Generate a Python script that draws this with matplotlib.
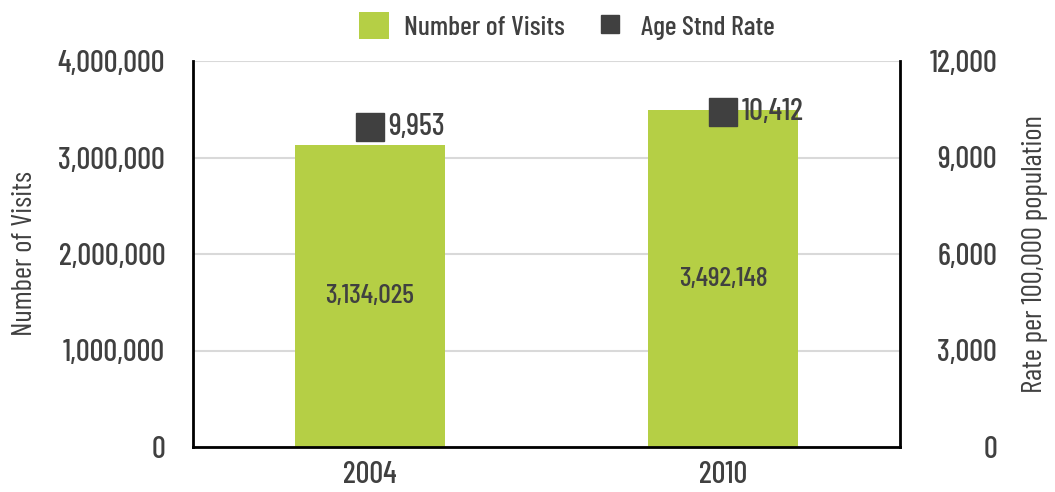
import matplotlib
matplotlib.use("Agg")
import matplotlib.pyplot as plt
from matplotlib import font_manager

years = ["2004", "2010"]
visits = [3134025, 3492148]
rates = [9953, 10412]

names = {f.name for f in font_manager.fontManager.ttflist}
fam = "DejaVu Sans"
for cand in ["Barlow Condensed", "Roboto Condensed", "Fira Sans Condensed", "Oswald",
             "Liberation Sans Narrow"]:
    if cand in names:
        fam = cand
        break
plt.rcParams["font.family"] = fam
plt.rcParams["font.weight"] = 500

dark = "#404040"
green = "#b5cf45"

fig = plt.figure(figsize=(10.55, 4.92), dpi=100)
ax = fig.add_axes([193 / 1055, 1 - 447 / 492, 707 / 1055, 386 / 492])
x = list(range(len(years)))

ax.bar(x, visits, width=0.425, color=green, zorder=2, label="Number of Visits")
ax.set_xlim(-0.5, 1.5)
ax.set_ylim(0, 4000000)
ax.set_yticks([0, 1000000, 2000000, 3000000, 4000000])
ax.set_yticklabels([f"{v:,}" for v in ax.get_yticks().astype(int)])
ax.set_xticks(x)
ax.set_xticklabels(years)
ax.grid(axis="y", color="#d9d9d9", linewidth=1.5, zorder=0)
for s in ["top", "right"]:
    ax.spines[s].set_visible(False)
ax.spines["left"].set_linewidth(2)
ax.spines["bottom"].set_linewidth(2)
ax.tick_params(length=0, labelsize=22, colors=dark)
ax.tick_params(axis="y", pad=20)
ax.tick_params(axis="x", pad=10)
ax.set_ylabel("Number of Visits", fontsize=21, color=dark)
ax.yaxis.set_label_coords((38 - 193) / 707, 0.5)

for xi, v in zip(x, visits):
    ax.text(xi, v / 2, f"{v:,}", ha="center", va="center", fontsize=20, color=dark)

ax2 = ax.twinx()
ax2.plot(x, rates, linestyle="none", marker="s", markersize=20, color=dark,
         label="Age Stnd Rate", zorder=3)
ax2.set_ylim(0, 12000)
ax2.set_yticks([0, 3000, 6000, 9000, 12000])
ax2.set_yticklabels([f"{v:,}" for v in ax2.get_yticks().astype(int)])
for s in ["top", "left", "bottom"]:
    ax2.spines[s].set_visible(False)
ax2.spines["right"].set_linewidth(2)
ax2.tick_params(length=0, labelsize=22, colors=dark, pad=70)
for t in ax2.get_yticklabels():
    t.set_ha("right")
ax2.set_ylabel("Rate per 100,000 population", fontsize=21, color=dark)
ax2.yaxis.set_label_coords((1022 - 193) / 707, 0.5)

for xi, r in zip(x, rates):
    ax2.annotate(f"{r:,}", (xi, r), xytext=(13, 0), textcoords="offset points",
                 ha="left", va="center", fontsize=22, color=dark)

h1, l1 = ax.get_legend_handles_labels()
h2, l2 = ax2.get_legend_handles_labels()
fig.legend(h1 + h2, l1 + l2, loc="center", bbox_to_anchor=(0.537, 1 - 26 / 492), ncol=2,
           frameon=False, fontsize=20, labelcolor=dark, handlelength=1.08,
           handleheight=1.08, handletextpad=0.55, columnspacing=1.1, markerscale=0.65,
           borderaxespad=0)

fig.savefig("out.png", dpi=100)
